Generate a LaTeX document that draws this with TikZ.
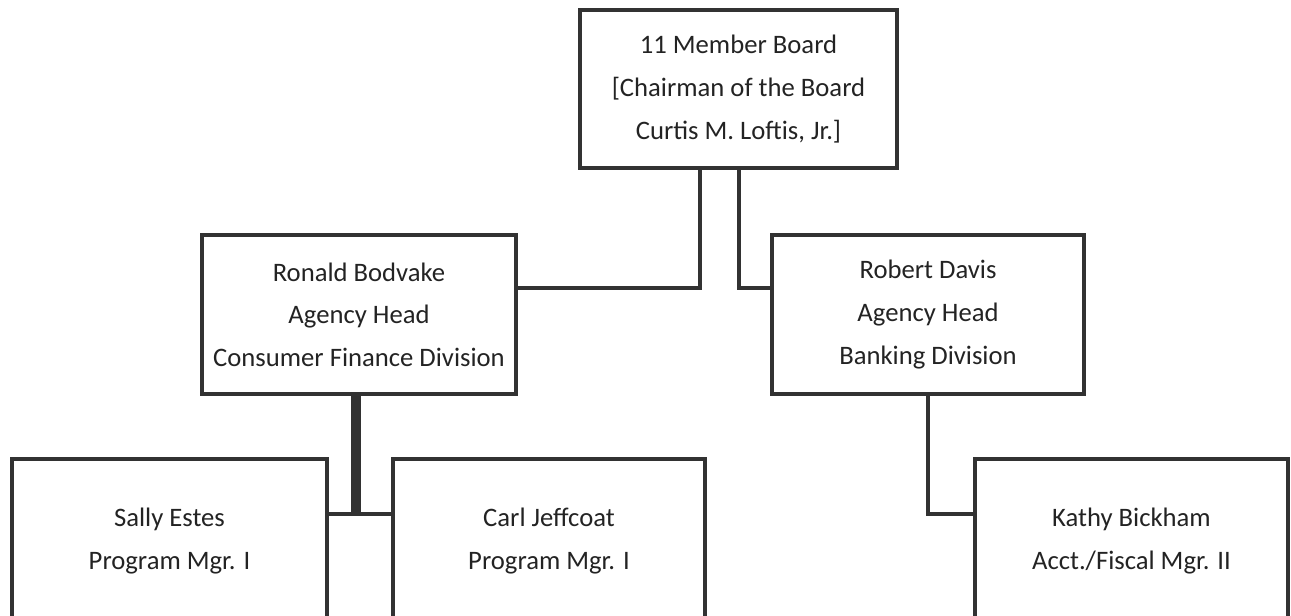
\documentclass[tikz,border=0pt]{standalone}
\usepackage{fontspec}
\setmainfont{Carlito}
\usepackage{xcolor}

\begin{document}
\begin{tikzpicture}[x=0.75pt,y=0.75pt,yscale=-1,xscale=1,
    box/.style={draw={rgb, 255:red, 50; green, 50; blue, 50 },line width=3.5pt,rectangle,inner sep=0pt,align=center,text={rgb, 255:red, 35; green, 35; blue, 35 },font=\fontsize{20}{32}\selectfont},
    link/.style={draw={rgb, 255:red, 50; green, 50; blue, 50 },line width=3.5pt},
    trunk/.style={draw={rgb, 255:red, 50; green, 50; blue, 50 },line width=7.5pt}]
    %set diagram left start at 0, and has height of 615
    \useasboundingbox (0,0) rectangle (1291,615);
    \clip (0,0) rectangle (1291,615);

    %Shape: Rectangle [board]
    \node [box,minimum width=237.75pt,minimum height=118.5pt] (board) at (738.5,89) {11 Member Board\\{[}Chairman of the Board\\Curtis M. Loftis, Jr.{]}};
    %Shape: Rectangle [bodvake]
    \node [box,minimum width=235.5pt,minimum height=119.25pt] (bodvake) at (359,314.5) {Ronald Bodvake\\Agency Head\\Consumer Finance Division};
    %Shape: Rectangle [davis]
    \node [box,minimum width=234pt,minimum height=119.25pt] (davis) at (928,314.5) {Robert Davis\\Agency Head\\Banking Division};
    %Shape: Rectangle [estes]
    \node [box,minimum width=236.25pt,minimum height=123pt] (estes) at (169.5,541) {Sally Estes\\Program Mgr. I};
    %Shape: Rectangle [jeffcoat]
    \node [box,minimum width=234pt,minimum height=123pt] (jeffcoat) at (549,541) {Carl Jeffcoat\\Program Mgr. I};
    %Shape: Rectangle [bickham]
    \node [box,minimum width=234.75pt,minimum height=123pt] (bickham) at (1131.5,541) {Kathy Bickham\\Acct./Fiscal Mgr. II};

    %Straight Lines [board to bodvake]
    \draw [link] (board.south -| 700,0) |- (bodvake.east |- 0,288) ;
    %Straight Lines [board to davis]
    \draw [link] (board.south -| 739,0) |- (davis.west |- 0,288) ;
    %Straight Lines [bodvake to estes and jeffcoat]
    \draw [trunk] (bodvake.south -| 356,0) -- (356,514) ;
    \draw [link] (estes.east |- 0,514) -- (jeffcoat.west |- 0,514) ;
    %Straight Lines [davis to bickham]
    \draw [link] (davis.south) |- (bickham.west |- 0,514) ;

\end{tikzpicture}
\end{document}
